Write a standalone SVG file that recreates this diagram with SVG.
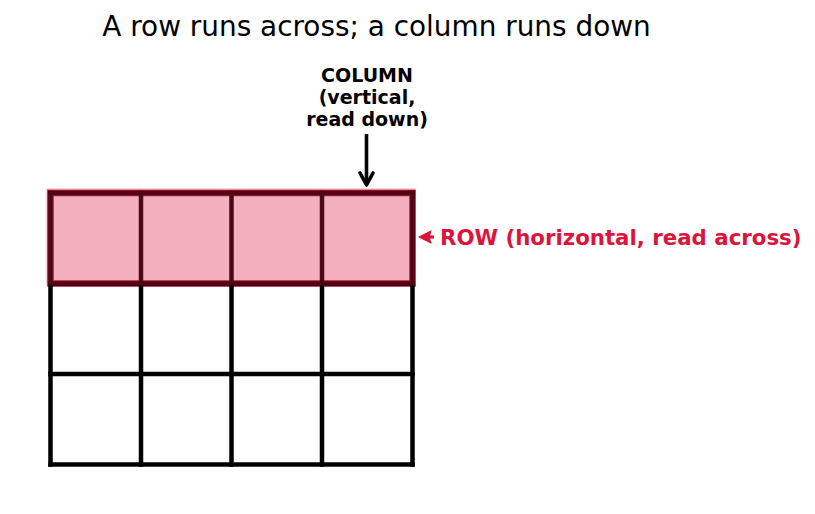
<svg xmlns="http://www.w3.org/2000/svg" width="815" height="514" viewBox="0 0 815 514">
<style>
.grid line{stroke:#000;stroke-width:4.5;stroke-linecap:square}
.t{font-family:"DejaVu Sans",sans-serif}
.b{font-family:"DejaVu Sans",sans-serif;font-weight:bold}
</style>
<rect width="815" height="514" fill="#fff"/>
<text class="t" x="376.5" y="36" font-size="27.9" text-anchor="middle" fill="#000">A row runs across; a column runs down</text>
<g id="row-border">
<rect x="50.5" y="193" width="362" height="90.5" fill="none" stroke="#a80f30" stroke-width="6.5"/>
</g>
<g id="grid" class="grid">
<line x1="50.5" y1="193" x2="412.5" y2="193"/>
<line x1="50.5" y1="283.5" x2="412.5" y2="283.5"/>
<line x1="50.5" y1="374" x2="412.5" y2="374"/>
<line x1="50.5" y1="464.5" x2="412.5" y2="464.5"/>
<line x1="50.5" y1="193" x2="50.5" y2="464.5"/>
<line x1="141" y1="193" x2="141" y2="464.5"/>
<line x1="231.5" y1="193" x2="231.5" y2="464.5"/>
<line x1="322" y1="193" x2="322" y2="464.5"/>
<line x1="412.5" y1="193" x2="412.5" y2="464.5"/>
</g>
<g id="row-highlight">
<rect x="46.5" y="188.5" width="369" height="97" fill="#dc143c" fill-opacity="0.34"/>
</g>
<g id="connectors">
<line x1="366.5" y1="134" x2="366.5" y2="183" stroke="#000" stroke-width="3.6"/>
<polyline points="360,173 366.5,185 373,173" fill="none" stroke="#000" stroke-width="3.6" stroke-linejoin="round" stroke-linecap="round"/>
<line x1="428" y1="237" x2="434" y2="237" stroke="#dc143c" stroke-width="3.2"/>
<path d="M419,237 L431,231 Q428,237 431,243 Z" fill="#dc143c" stroke="#dc143c" stroke-width="1.2" stroke-linejoin="round"/>
</g>
<g id="column-label">
<text class="b" font-size="19" text-anchor="middle" fill="#000"><tspan x="367" y="82">COLUMN</tspan><tspan x="367" y="104">(vertical,</tspan><tspan x="367" y="125.5">read down)</tspan></text>
</g>
<g id="row-label">
<text class="b" x="440" y="245" font-size="21.3" fill="#dc143c">ROW (horizontal, read across)</text>
</g>
</svg>
